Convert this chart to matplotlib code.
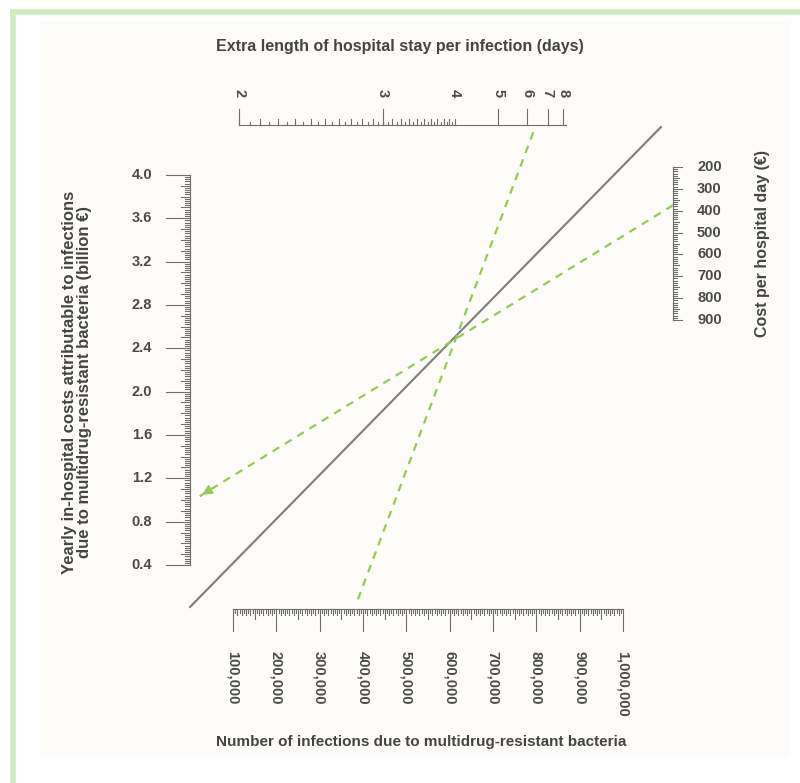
import numpy as np
import matplotlib
matplotlib.use('Agg')
import matplotlib.pyplot as plt

plt.rcParams['font.family'] = ['Liberation Sans Narrow', 'Liberation Sans', 'DejaVu Sans']

# scale values
cost_ticks = [0.4, 0.8, 1.2, 1.6, 2.0, 2.4, 2.8, 3.2, 3.6, 4.0]
infection_ticks = [100000, 200000, 300000, 400000, 500000, 600000, 700000, 800000, 900000, 1000000]
day_ticks = [2, 3, 4, 5, 6, 7, 8]
price_ticks = [200, 300, 400, 500, 600, 700, 800, 900]

# worked example
ex_infections = 380000
ex_days = 6.4
ex_price = 375
ex_cost = 0.98

txt = '#4a4a4a'
tick_col = '#6e6e6e'
green = '#93cb55'

fig = plt.figure(figsize=(8, 7.83), dpi=100)
ax = fig.add_axes([0, 0, 1, 1])
ax.set_xlim(0, 800)
ax.set_ylim(783, 0)
ax.axis('off')


def lin(v, v0, v1, p0, p1):
    return p0 + (np.asarray(v, float) - v0) * (p1 - p0) / (v1 - v0)


# scale placement (pixels)
def cost_y(v):
    return lin(v, 4.0, 0.4, 175, 565)


def inf_x(v):
    return lin(v, 100000, 1000000, 233, 623)


def day_x(v):
    return lin(1.0 / np.asarray(v, float), 0.5, 0.125, 239, 563)


def price_y(v):
    return lin(v, 200, 900, 167, 320)


COST_X, INF_Y, DAY_Y, PRICE_X = 190, 609, 125, 673

# frame
ax.add_patch(plt.Rectangle((40, 22), 748, 733, color='#fefcf8', zorder=0))
ax.plot([10, 800], [11.5, 11.5], color='#d3eac1', lw=4, solid_capstyle='butt')
ax.plot([12.5, 12.5], [10, 783], color='#d3eac1', lw=4, solid_capstyle='butt')

kw = dict(color=tick_col, lw=0.8)
title_kw = dict(fontsize=11.5, fontweight='bold', color='#444444')
lab_kw = dict(fontsize=10.5, fontweight='bold', color=txt)

# left scale: yearly cost
ax.plot([COST_X, COST_X], cost_y([0.4, 4.0]), **kw)
for v in np.arange(0.4, 4.0001, 0.02):
    r = round(v * 100)
    if r % 40 == 0:
        ln = 24
    elif r % 10 == 0:
        ln = 9
    else:
        ln = 5
    ax.plot([COST_X - ln, COST_X], [cost_y(v)] * 2, **kw)
for v in cost_ticks:
    ax.text(152, cost_y(v), f'{v:.1f}', ha='right', va='center', **lab_kw)
ax.text(77, 382, 'Yearly in-hospital costs attributable to infections\n'
        'due to multidrug-resistant bacteria (billion €)',
        rotation=90, ha='center', va='center', multialignment='center',
        linespacing=1.05, fontsize=12, fontweight='bold', color='#444444')

# bottom scale: number of infections
ax.plot(inf_x([100000, 1000000]), [INF_Y, INF_Y], **kw)
for v in range(100000, 1000001, 5000):
    if v % 100000 == 0:
        ln = 22
    elif v % 50000 == 0:
        ln = 10
    elif v % 10000 == 0:
        ln = 6
    else:
        ln = 4
    ax.plot([inf_x(v)] * 2, [INF_Y, INF_Y + ln], **kw)
for v in infection_ticks:
    ax.text(inf_x(v), 651, f'{v:,}', rotation=270, ha='center', va='top', **lab_kw)
ax.text(421, 742, 'Number of infections due to multidrug-resistant bacteria',
        ha='center', va='center', fontsize=11, fontweight='bold', color='#444444')

# top scale: extra length of stay
ax.plot([day_x(2), day_x(8) + 3], [DAY_Y, DAY_Y], **kw)
for v in np.arange(2.0, 4.0001, 0.05):
    ln = 6 if round(v * 100) % 10 == 0 else 3
    ax.plot([day_x(v)] * 2, [DAY_Y, DAY_Y - ln], **kw)
for v in day_ticks:
    if v != 4:
        ax.plot([day_x(v)] * 2, [DAY_Y, DAY_Y - 16], **kw)
    ax.text(day_x(v), 93, str(v), rotation=270, ha='center', va='center', **lab_kw)
ax.text(400, 46, 'Extra length of hospital stay per infection (days)',
        ha='center', va='center', **title_kw)

# right scale: cost per hospital day
ax.plot([PRICE_X, PRICE_X], price_y([200, 900]), **kw)
for v in range(200, 901, 10):
    ln = 9 if v % 100 == 0 else (6 if v % 50 == 0 else 4)
    ax.plot([PRICE_X, PRICE_X + ln], [price_y(v)] * 2, **kw)
for v in price_ticks:
    ax.text(697, price_y(v), str(v), ha='left', va='center', **lab_kw)
ax.text(763, price_y(550), 'Cost per hospital day (€)', rotation=90,
        ha='center', va='center', **title_kw)

# reference line
ax.plot([190, 661], [607, 127], color='#7d7d7d', lw=1.5)

# example: days -> infections
p0 = np.array([day_x(ex_days), DAY_Y])
p1 = np.array([inf_x(ex_infections), INF_Y])
a, b = p0 + 0.015 * (p1 - p0), p0 + 0.99 * (p1 - p0)
ax.plot([a[0], b[0]], [a[1], b[1]], color=green, lw=1.6, ls=(0, (3.5, 3)))

# example: price per day -> yearly cost
q0 = np.array([PRICE_X, price_y(ex_price)])
q1 = np.array([COST_X, cost_y(ex_cost)])
tip = q0 + 0.98 * (q1 - q0)
ax.plot([q0[0], tip[0]], [q0[1], tip[1]], color=green, lw=1.6, ls=(0, (3.5, 3)))
base = q0 + 0.955 * (q1 - q0)
ax.annotate('', xy=tip, xytext=base,
            arrowprops=dict(arrowstyle='-|>,head_length=0.6,head_width=0.3', color=green, lw=1.2))

fig.savefig('out.png', dpi=100, facecolor='white')
